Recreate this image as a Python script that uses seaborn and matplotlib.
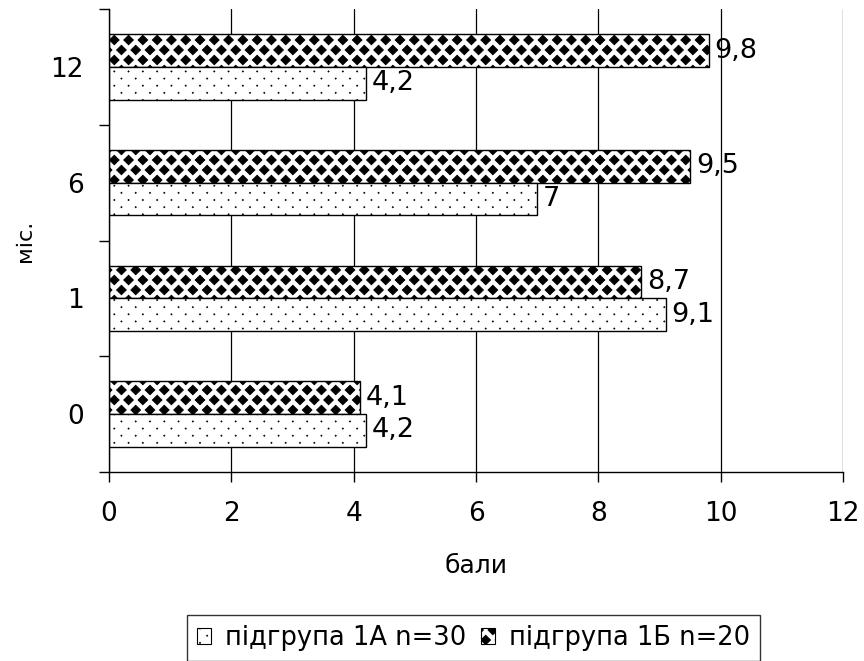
import numpy as np
import pandas as pd
import matplotlib
matplotlib.use("Agg")
import matplotlib.pyplot as plt
import matplotlib.hatch as mhatch
from matplotlib.path import Path
from matplotlib.patches import Patch
import seaborn as sns

# ---------------- data ----------------
months = ["12", "6", "1", "0"]
group_a = [4.2, 7.0, 9.1, 4.2]   # підгрупа 1А n=30
group_b = [9.8, 9.5, 8.7, 4.1]   # підгрупа 1Б n=20
label_a = "підгрупа 1А n=30"
label_b = "підгрупа 1Б n=20"
x_ticks = [0, 2, 4, 6, 8, 10, 12]


# ---------------- custom hatch patterns ----------------
class LatticeHatch(mhatch.HatchPatternBase):
    char = "*"
    ncols = 7
    nrows = 8
    hw = 0.045
    hh = 0.05

    def __init__(self, hatch, density):
        if hatch.count(self.char) > 0:
            pts = []
            for r in range(self.nrows + 1):
                y = r / self.nrows
                if r % 2 == 0:
                    xs = [k / self.ncols for k in range(self.ncols + 1)]
                else:
                    xs = [(k + 0.5) / self.ncols for k in range(self.ncols)]
                pts += [(x, y) for x in xs]
            self.centers = np.array(pts)
            self.num_vertices = len(pts) * 5
        else:
            self.num_vertices = 0

    def set_vertices_and_codes(self, vertices, codes):
        shape = np.array([[0, -self.hh], [self.hw, 0], [0, self.hh],
                          [-self.hw, 0], [0, -self.hh]])
        v = (self.centers[:, None, :] + shape[None, :, :]).reshape(-1, 2)
        vertices[:] = v
        c = np.array([Path.MOVETO, Path.LINETO, Path.LINETO,
                      Path.LINETO, Path.CLOSEPOLY])
        codes[:] = np.tile(c, len(self.centers))


class DiamondHatch(LatticeHatch):
    char = "*"
    ncols = 7
    nrows = 10
    hw = 0.048
    hh = 0.047


class DotHatch(LatticeHatch):
    char = "."
    ncols = 7
    nrows = 14
    hw = 0.005
    hh = 0.005


mhatch._hatch_types = [t for t in mhatch._hatch_types
                       if t not in (mhatch.SmallFilledCircles, mhatch.Stars)] + [DotHatch, DiamondHatch]

# ---------------- style ----------------
sns.set_style("white")
plt.rcParams["font.family"] = ["DejaVu Sans"]
plt.rcParams["hatch.linewidth"] = 0.7
for key in ["text.color", "axes.labelcolor", "xtick.color", "ytick.color"]:
    plt.rcParams[key] = "black"

df = pd.DataFrame({
    "міс.": months * 2,
    "бали": group_a + group_b,
    "група": [label_a] * len(months) + [label_b] * len(months),
})

fig = plt.figure(figsize=(8.64, 6.61), dpi=100)
ax = fig.add_axes([0.126, 0.286, 0.850, 0.700])

sns.barplot(data=df, y="міс.", x="бали", hue="група", order=months,
            hue_order=[label_b, label_a], orient="h", width=0.565, gap=0,
            dodge=True, legend=False, ax=ax)

styles = {0: "*", 1: "."}
vals = {0: group_b, 1: group_a}
for i, cont in enumerate(ax.containers):
    for bar in cont:
        bar.set_facecolor("white")
        bar.set_edgecolor("black")
        bar.set_linewidth(1.0)
        bar.set_hatch(styles[i])
    ax.bar_label(cont, labels=[f"{v:g}".replace(".", ",") for v in vals[i]],
                 padding=4, fontsize=19.5, color="black")

# axes layout
ax.set_xlim(0, 12)
ax.set_ylim(3.5, -0.5)
ax.set_xticks(x_ticks)
ax.set_xticklabels([str(t) for t in x_ticks])
ax.set_yticks([-0.5, 0.5, 1.5, 2.5, 3.5])
ax.set_yticklabels([""] * 5)
ax.set_yticks(range(len(months)), labels=months, minor=True)
ax.tick_params(axis="y", which="major", length=7.2, width=1, color="black", direction="out", left=True)
ax.tick_params(axis="y", which="minor", length=0, pad=18, labelsize=19)
ax.tick_params(axis="x", which="major", length=7.2, width=1, color="black",
               direction="out", bottom=True, pad=14, labelsize=19)

ax.xaxis.grid(True, color="black", linewidth=0.9)
ax.yaxis.grid(False)
ax.set_axisbelow(True)
for s in ["top", "right"]:
    ax.spines[s].set_visible(False)
for s in ["left", "bottom"]:
    ax.spines[s].set_color("black")
    ax.spines[s].set_linewidth(1.0)

ax.set_xlabel("бали", fontsize=18)
ax.set_ylabel("міс.", fontsize=16)
ax.xaxis.set_label_coords(0.5, -0.178)
ax.yaxis.set_label_coords(-0.101, 0.5)

handles = [Patch(facecolor="white", edgecolor="black", hatch=".", linewidth=0.8),
           Patch(facecolor="white", edgecolor="black", hatch="*", linewidth=0.8)]
leg = fig.legend(handles=handles, labels=[label_a, label_b], loc="center",
                 bbox_to_anchor=(0.548, 0.035), ncol=2, fontsize=18.5,
                 frameon=True, fancybox=False, edgecolor="black",
                 handlelength=0.55, handleheight=0.55, handletextpad=0.55,
                 columnspacing=0.55, borderpad=0.4, borderaxespad=0)
leg.get_frame().set_linewidth(1.0)

fig.savefig("out.png", dpi=100)
